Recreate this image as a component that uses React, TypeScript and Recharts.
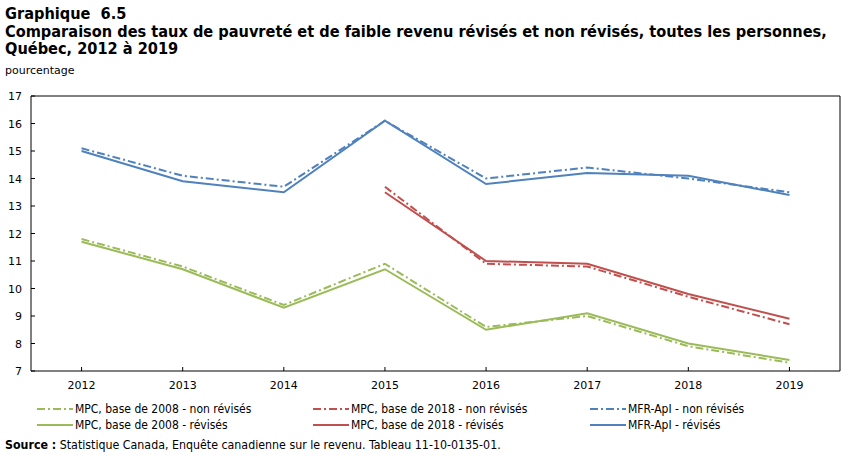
import React from "react";
import { LineChart, Line, XAxis, YAxis } from "recharts";

const years = ["2012", "2013", "2014", "2015", "2016", "2017", "2018", "2019"];
const mpc2008NonRev = [11.8, 10.8, 9.4, 10.9, 8.6, 9.0, 7.9, 7.3];
const mpc2008Rev = [11.7, 10.7, 9.3, 10.7, 8.5, 9.1, 8.0, 7.4];
const mpc2018NonRev = [null, null, null, 13.7, 10.9, 10.8, 9.7, 8.7];
const mpc2018Rev = [null, null, null, 13.5, 11.0, 10.9, 9.8, 8.9];
const mfrNonRev = [15.1, 14.1, 13.7, 16.1, 14.0, 14.4, 14.0, 13.5];
const mfrRev = [15.0, 13.9, 13.5, 16.1, 13.8, 14.2, 14.1, 13.4];
const yTicks = [7, 8, 9, 10, 11, 12, 13, 14, 15, 16, 17];

const data = years.map((year, i) => ({
  year,
  mpc2008NonRev: mpc2008NonRev[i],
  mpc2008Rev: mpc2008Rev[i],
  mpc2018NonRev: mpc2018NonRev[i],
  mpc2018Rev: mpc2018Rev[i],
  mfrNonRev: mfrNonRev[i],
  mfrRev: mfrRev[i],
}));

const GREEN = "#9bbb59";
const RED = "#c0504d";
const BLUE = "#4f81bd";
const DASHDOT = "8 3 2 3";
const FONT = "'DejaVu Sans', Verdana, sans-serif";
const CONDENSED = "'DejaVu Sans Condensed', 'DejaVu Sans', sans-serif";

// Half a category band on each side, so points sit at band centres.
const HALF_BAND = 809 / 16;

const series = [
  { key: "mpc2008NonRev", name: "MPC, base de 2008 - non révisés", color: GREEN, dash: true },
  { key: "mpc2018NonRev", name: "MPC, base de 2018 - non révisés", color: RED, dash: true },
  { key: "mfrNonRev", name: "MFR-ApI - non révisés", color: BLUE, dash: true },
  { key: "mpc2008Rev", name: "MPC, base de 2008 - révisés", color: GREEN, dash: false },
  { key: "mpc2018Rev", name: "MPC, base de 2018 - révisés", color: RED, dash: false },
  { key: "mfrRev", name: "MFR-ApI - révisés", color: BLUE, dash: false },
];

// Ticks point inward from the axis line, labels sit outside.
const XTick = (props: any) => {
  const { x, y, payload } = props;
  return (
    <g>
      <line x1={x} x2={x} y1={y} y2={y - 4} stroke="#000" strokeWidth={1} />
      <text x={x} y={y + 18} textAnchor="middle" fontSize={11} fontFamily={FONT} fill="#000">
        {payload.value}
      </text>
    </g>
  );
};

const YTick = (props: any) => {
  const { x, y, payload } = props;
  return (
    <g>
      <line x1={x} x2={x + 4} y1={y} y2={y} stroke="#000" strokeWidth={1} />
      <text x={x - 9} y={y + 4} textAnchor="end" fontSize={11} fontFamily={FONT} fill="#000">
        {payload.value}
      </text>
    </g>
  );
};

const legendCols = [37, 313, 590];
const legendRows = [409, 425];

export default function App() {
  return (
    <div
      style={{
        position: "absolute",
        left: 0,
        top: 0,
        width: 851,
        height: 455,
        background: "#fff",
        fontFamily: FONT,
        color: "#000",
      }}
    >
      <div
        style={{
          position: "absolute",
          left: 5,
          top: 5,
          fontSize: 16.2,
          fontWeight: "bold",
          lineHeight: "17.5px",
          fontFamily: CONDENSED,
          whiteSpace: "pre",
        }}
      >
        <div>{"Graphique  6.5"}</div>
        <div>Comparaison des taux de pauvreté et de faible revenu révisés et non révisés, toutes les personnes,</div>
        <div>Québec, 2012 à 2019</div>
      </div>
      <div style={{ position: "absolute", left: 5, top: 64, fontSize: 11, fontFamily: FONT }}>pourcentage</div>

      <LineChart
        width={851}
        height={455}
        data={data}
        margin={{ top: 95, right: 10, bottom: 54, left: 0 }}
      >
        <XAxis
          dataKey="year"
          axisLine={{ stroke: "#000" }}
          tickLine={false}
          tickSize={0}
          tickMargin={0}
          height={30}
          tick={<XTick />}
          interval={0}
          padding={{ left: HALF_BAND, right: HALF_BAND }}
        />
        <XAxis
          xAxisId="top"
          dataKey="year"
          orientation="top"
          axisLine={{ stroke: "#000" }}
          tick={false}
          tickLine={false}
          height={1}
          padding={{ left: HALF_BAND, right: HALF_BAND }}
        />
        <YAxis
          domain={[7, 17]}
          ticks={yTicks}
          axisLine={{ stroke: "#000" }}
          tickLine={false}
          tickSize={0}
          tickMargin={0}
          width={31}
          tick={<YTick />}
          interval={0}
        />
        <YAxis
          yAxisId="right"
          orientation="right"
          domain={[7, 17]}
          axisLine={{ stroke: "#000" }}
          tick={false}
          tickLine={false}
          width={1}
        />
        {series.map((s) => (
          <Line
            key={s.key}
            dataKey={s.key}
            name={s.name}
            stroke={s.color}
            strokeWidth={2}
            strokeDasharray={s.dash ? DASHDOT : undefined}
            dot={false}
            activeDot={false}
            isAnimationActive={false}
            connectNulls={false}
            type="linear"
          />
        ))}
      </LineChart>

      {series.map((s, i) => {
        const col = legendCols[i % 3];
        const row = legendRows[Math.floor(i / 3)];
        return (
          <div
            key={s.key}
            style={{ position: "absolute", left: col, top: row - 8, height: 16, display: "flex", alignItems: "center" }}
          >
            <svg width={36} height={16} style={{ display: "block" }}>
              <line
                x1={0}
                x2={36}
                y1={8}
                y2={8}
                stroke={s.color}
                strokeWidth={2}
                strokeDasharray={s.dash ? DASHDOT : undefined}
              />
            </svg>
            <span style={{ fontSize: 12, fontFamily: CONDENSED, marginLeft: 2, whiteSpace: "nowrap" }}>{s.name}</span>
          </div>
        );
      })}

      <div style={{ position: "absolute", left: 5, top: 438, fontSize: 12.3, fontFamily: CONDENSED, whiteSpace: "nowrap" }}>
        <b>Source :</b> Statistique Canada, Enquête canadienne sur le revenu. Tableau 11-10-0135-01.
      </div>
    </div>
  );
}
